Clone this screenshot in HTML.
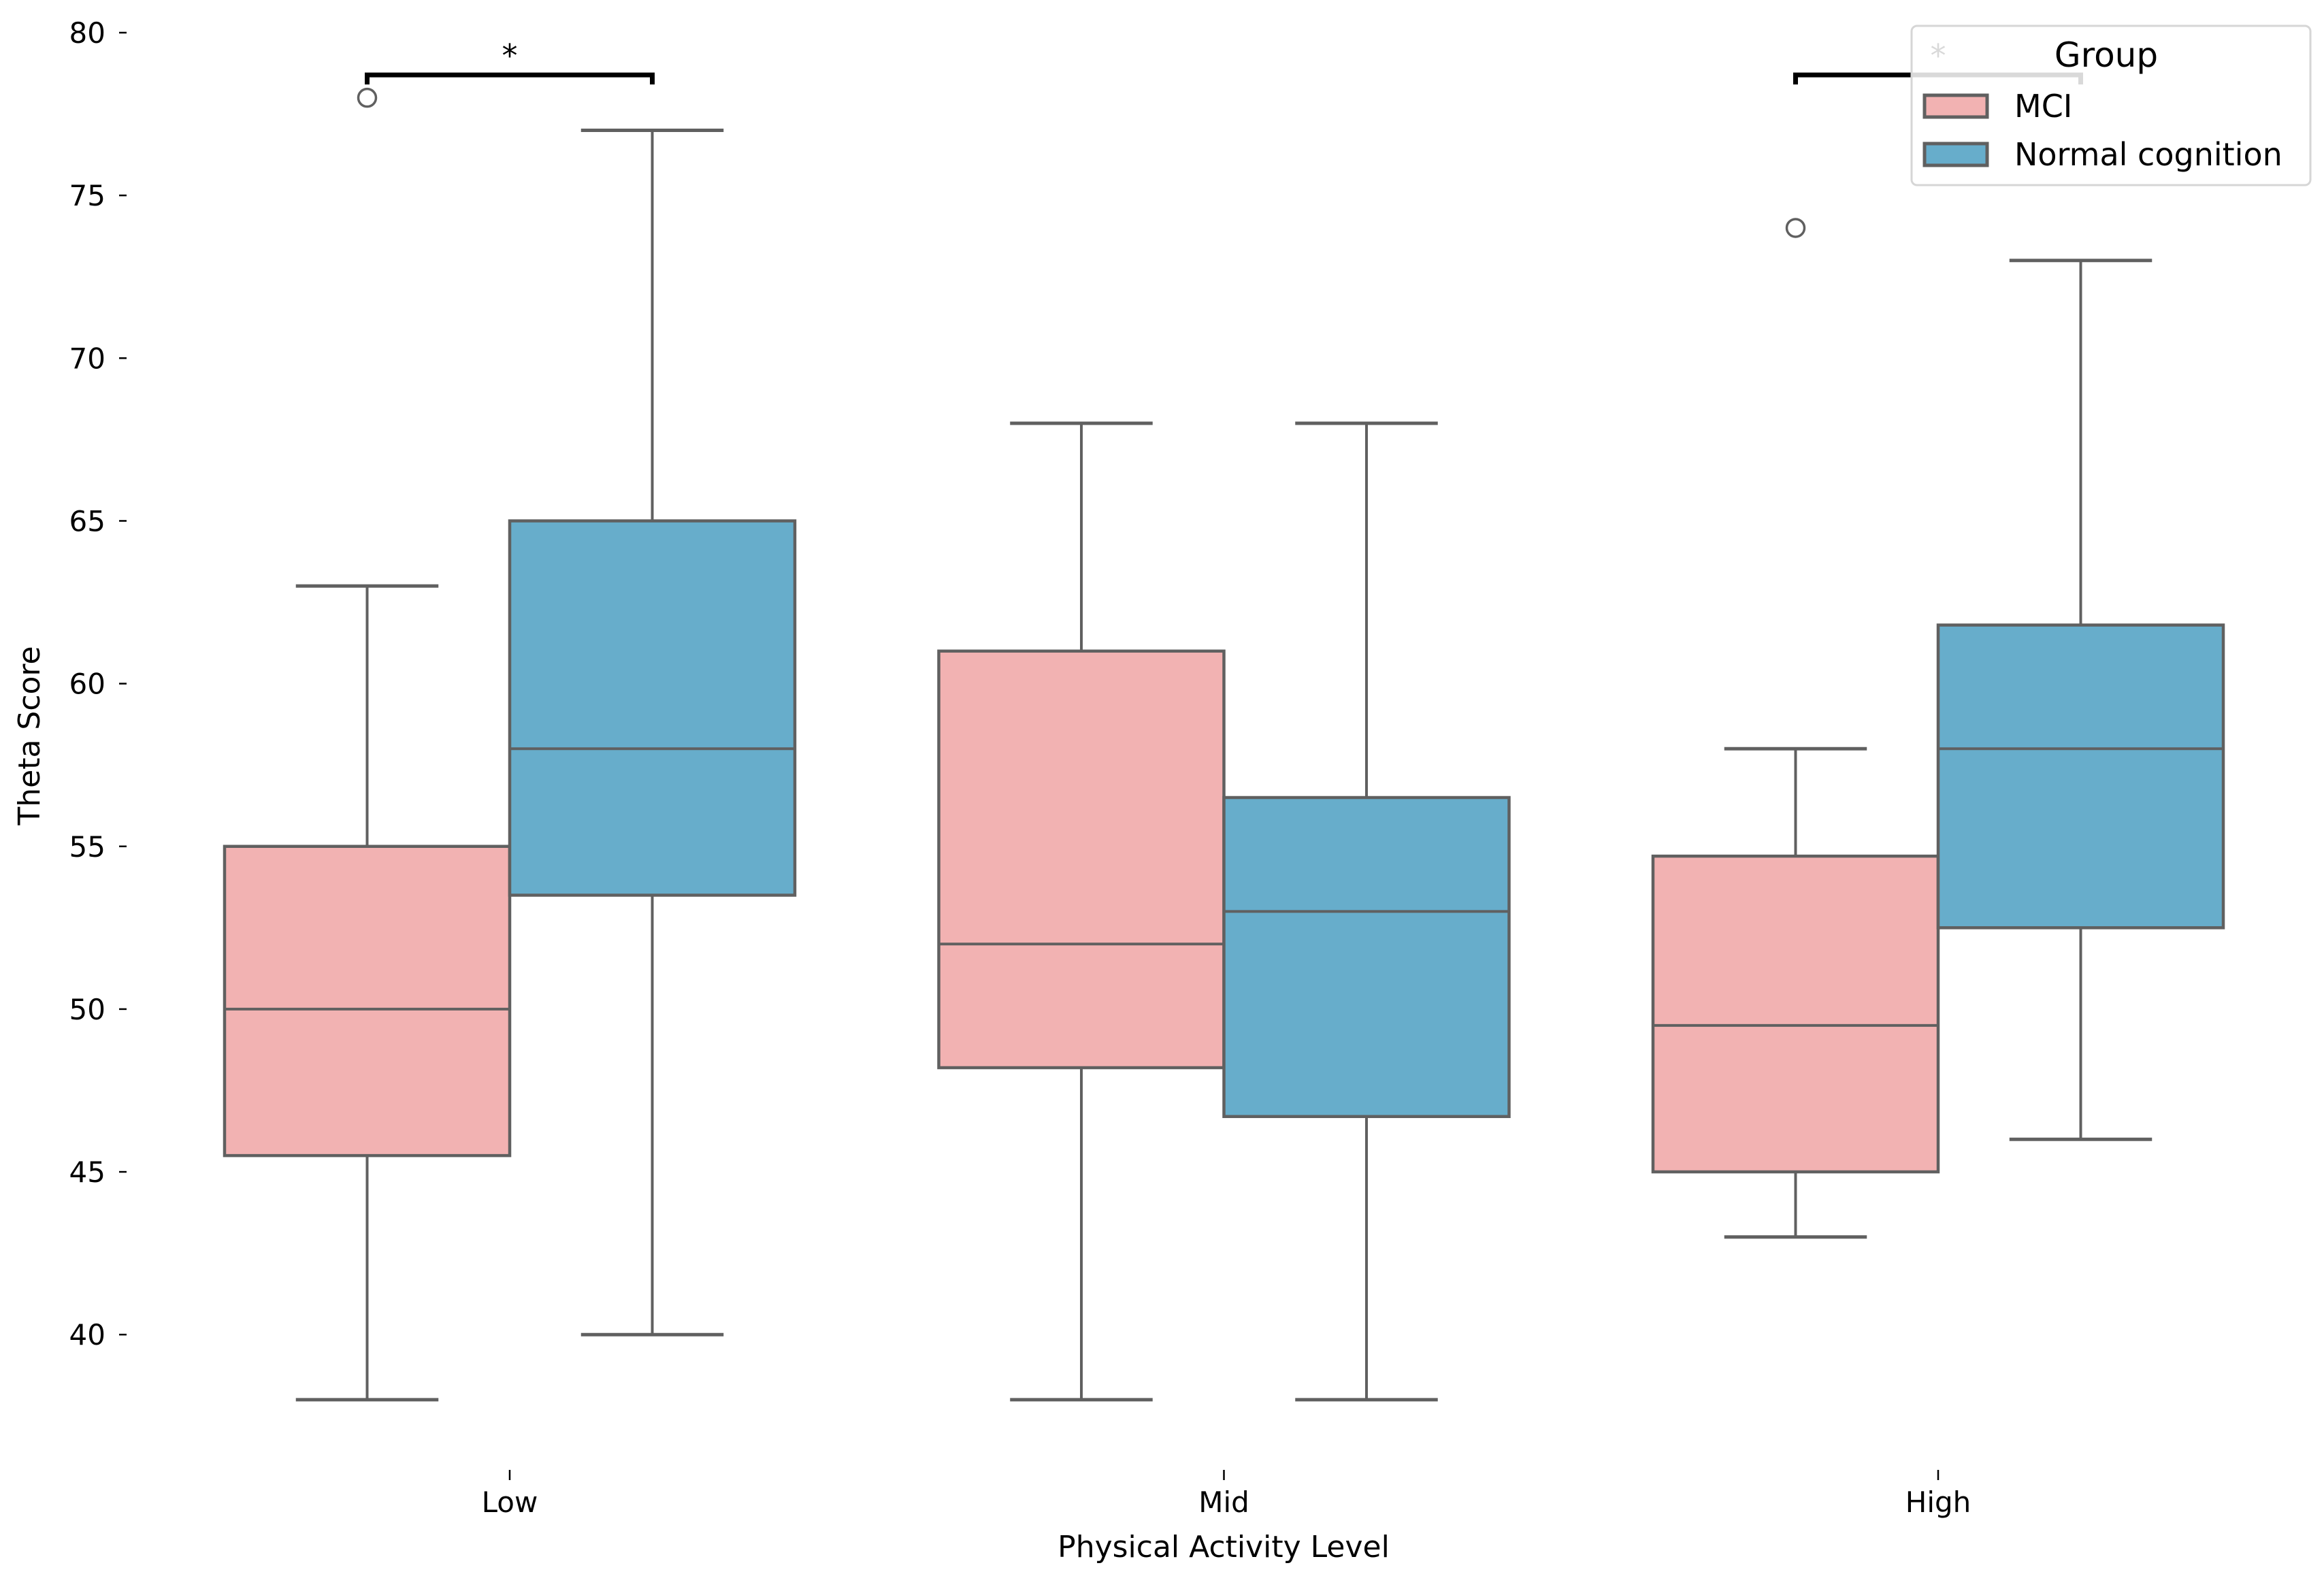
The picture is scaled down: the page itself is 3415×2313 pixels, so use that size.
<!DOCTYPE html>
<html><head><meta charset="utf-8"><style>
html,body{margin:0;padding:0;background:#fff;}
svg{display:block;font-family:"DejaVu Sans","Liberation Sans",sans-serif;}
</style></head><body>
<svg id="chart" width="3415" height="2313" viewBox="0 0 3415 2313" xmlns="http://www.w3.org/2000/svg">
<g id="axes"></g>
<g id="boxes"></g>
<g id="annot"></g>
<g id="legend"></g>
</svg>
<script>
const categories = ["Low", "Mid", "High"];
const groups = ["MCI", "Normal cognition"];
const groupColors = ["#f2b2b2", "#67adcb"];
const yTicks = [40, 45, 50, 55, 60, 65, 70, 75, 80];
// [whiskerLow, q1, median, q3, whiskerHigh] per category
const mciStats = [[38, 45.5, 50, 55, 63], [38, 48.2, 52, 61, 68], [43, 45, 49.5, 54.7, 58]];
const ncStats = [[40, 53.5, 58, 65, 77], [38, 46.7, 53, 56.5, 68], [46, 52.5, 58, 61.8, 73]];
const mciOutliers = [[78], [], [74]];
const ncOutliers = [[], [], []];
const sigCategories = ["Low", "High"];
const sigLevel = 78.7;

const NS = "http://www.w3.org/2000/svg";
const yScale = v => 48 + (80 - v) * 47.83;
const xScale = i => 749 + i * 1049.5;
const boxW = 419;
function mk(tag, attrs, parent, text) {
  const e = document.createElementNS(NS, tag);
  for (const k in attrs) e.setAttribute(k, attrs[k]);
  if (text !== undefined) e.textContent = text;
  parent.appendChild(e);
  return e;
}
const axes = document.getElementById('axes');
yTicks.forEach(t => {
  const y = yScale(t);
  const tk = mk('line', {x1: 175, x2: 186, y1: y, y2: y, stroke: '#000', 'stroke-width': 2.5}, axes);
  
  
  const lb = mk('text', {x: 155, y: y + 15, 'text-anchor': 'end', 'font-size': 42, fill: '#000'}, axes, String(t));
  
  
});
categories.forEach((c, i) => {
  const x = xScale(i);
  const tk = mk('line', {x1: x, x2: x, y1: 2160, y2: 2175, stroke: '#000', 'stroke-width': 2.5}, axes);
  
  
  const lb = mk('text', {x: x, y: 2222, 'text-anchor': 'middle', 'font-size': 42, fill: '#000'}, axes, c);
  
  
});
const xt = mk('text', {x: 1798, y: 2288, 'text-anchor': 'middle', 'font-size': 44, fill: '#000'}, axes, 'Physical Activity Level');


const yt = mk('text', {x: 0, y: 0, 'text-anchor': 'middle', 'font-size': 44, fill: '#000', transform: 'translate(58,1081) rotate(-90)'}, axes, 'Theta Score');



const boxes = document.getElementById('boxes');
const lc = '#606060';
[mciStats, ncStats].forEach((stats, g) => {
  const outs = g === 0 ? mciOutliers : ncOutliers;
  stats.forEach((s, i) => {
    const left = g === 0 ? xScale(i) - boxW : xScale(i);
    const cx = left + boxW / 2;
    const grp = mk('g', {}, boxes);
    
    
    mk('line', {x1: cx, x2: cx, y1: yScale(s[0]), y2: yScale(s[1]), stroke: lc, 'stroke-width': 4}, grp);
    mk('line', {x1: cx, x2: cx, y1: yScale(s[3]), y2: yScale(s[4]), stroke: lc, 'stroke-width': 4}, grp);
    mk('line', {x1: cx - boxW / 4, x2: cx + boxW / 4, y1: yScale(s[0]), y2: yScale(s[0]), stroke: lc, 'stroke-width': 5}, grp);
    mk('line', {x1: cx - boxW / 4, x2: cx + boxW / 4, y1: yScale(s[4]), y2: yScale(s[4]), stroke: lc, 'stroke-width': 5}, grp);
    mk('rect', {x: left, y: yScale(s[3]), width: boxW, height: yScale(s[1]) - yScale(s[3]), fill: groupColors[g], stroke: lc, 'stroke-width': 4.5}, grp);
    mk('line', {x1: left, x2: left + boxW, y1: yScale(s[2]), y2: yScale(s[2]), stroke: lc, 'stroke-width': 4}, grp);
    outs[i].forEach(o => {
      const c = mk('ellipse', {cx: cx, cy: yScale(o), rx: 13, ry: 13, fill: 'none', stroke: lc, 'stroke-width': 3.5}, grp);
      
      
    });
  });
});

const annot = document.getElementById('annot');
sigCategories.forEach(c => {
  const i = categories.indexOf(c);
  const x1 = xScale(i) - boxW / 2, x2 = xScale(i) + boxW / 2;
  const y = yScale(sigLevel);
  const p = mk('path', {d: `M${x1},${y + 14} L${x1},${y} L${x2},${y} L${x2},${y + 14}`, fill: 'none', stroke: '#000', 'stroke-width': 7}, annot);
  
  
  const s = mk('text', {x: xScale(i), y: y - 12, 'text-anchor': 'middle', 'font-size': 46, fill: '#000'}, annot, '*');
  
  
});

const leg = document.getElementById('legend');
const lf = mk('rect', {x: 2809, y: 38, width: 586, height: 234, rx: 8, fill: 'rgba(255,255,255,0.85)', stroke: '#d6d6d6', 'stroke-width': 3}, leg);


const ltitle = mk('text', {x: 3095, y: 98, 'text-anchor': 'middle', 'font-size': 50, fill: '#000'}, leg, 'Group');


groups.forEach((gname, g) => {
  const y = 140 + g * 71;
  const e = mk('g', {}, leg);
  
  
  mk('rect', {x: 2828, y: y, width: 92, height: 32, fill: groupColors[g], stroke: lc, 'stroke-width': 5}, e);
  mk('text', {x: 2960, y: y + 32, 'font-size': 46, fill: '#000'}, e, gname);
});
</script>
</body></html>
